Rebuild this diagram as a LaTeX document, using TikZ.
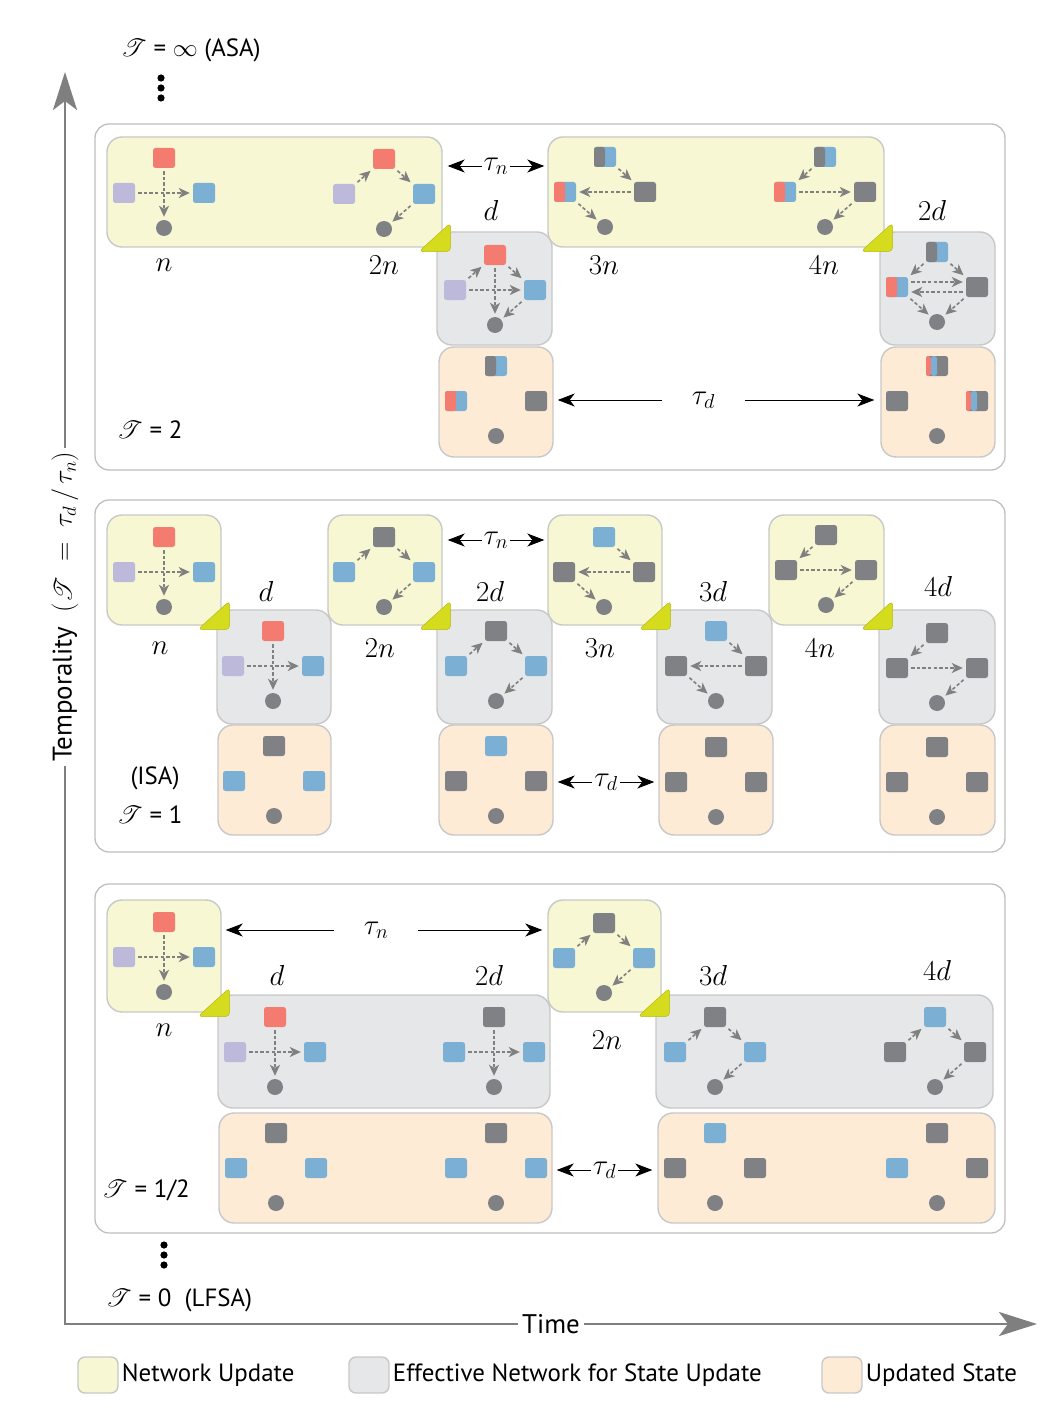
\RequirePackage{fix-cm}
\documentclass[tikz,border=0pt]{standalone}
\usepackage[no-math]{fontspec}
\setmainfont{PT Sans}
\usepackage{mathrsfs}
\usetikzlibrary{arrows.meta, positioning, fit}

\definecolor{cred}{HTML}{F47B6F}
\definecolor{cblue}{HTML}{7BAFD4}
\definecolor{clil}{HTML}{BDB9DA}
\definecolor{cgrey}{HTML}{808184}
\definecolor{clink}{HTML}{808080}
\definecolor{nfill}{HTML}{F7F7D3}
\definecolor{efill}{HTML}{E6E7E8}
\definecolor{sfill}{HTML}{FDEBD6}
\definecolor{tileline}{HTML}{C8C8C8}
\definecolor{panelline}{HTML}{BFBFBF}
\definecolor{flagc}{HTML}{D5DC1E}
\definecolor{caxis}{HTML}{7F7F7F}

\tikzset{
    panel/.style={draw=panelline, line width=1.3bp, rounded corners=14bp, fill=white, inner sep=0pt},
    tile/.style={draw=tileline, line width=1.4bp, rounded corners=15bp, inner sep=0pt},
    nbox/.style={tile, fill=nfill},
    ebox/.style={tile, fill=efill},
    sbox/.style={tile, fill=sfill},
    sq/.style={rectangle, rounded corners=2.5bp, minimum width=22bp, minimum height=20bp, inner sep=0pt, fill=#1},
    sq/.default=cgrey,
    redsq/.style={sq=cred},
    bluesq/.style={sq=cblue},
    lilsq/.style={sq=clil},
    greysq/.style={sq=cgrey},
    gbsq/.style={sq=cblue, path picture={\fill[cgrey] (path picture bounding box.south west) rectangle (path picture bounding box.north);}},
    rbsq/.style={sq=cblue, path picture={\fill[cred] (path picture bounding box.south west) rectangle (path picture bounding box.north);}},
    rbgsq/.style={sq=cgrey, path picture={
        \fill[cred] (path picture bounding box.south west) rectangle ([xshift=-6bp]path picture bounding box.north);
        \fill[cblue] ([xshift=-6bp]path picture bounding box.south) rectangle (path picture bounding box.north);}},
    sink/.style={circle, fill=cgrey, minimum size=16bp, inner sep=0pt},
    link/.style={draw=clink, dash pattern=on 3.4bp off 2.2bp, line width=1.6bp, -{Stealth[length=11bp, width=10bp, inset=3bp]}, shorten <=3bp, shorten >=3bp},
    span/.style={<->, >={Stealth[length=17bp, width=13bp, inset=5bp]}, line width=0.9bp},
    tau/.style={fill=white, font=\fontsize{29}{32}\selectfont, inner xsep=2bp, inner ysep=0pt},
    tick/.style={font=\fontsize{29}{32}\selectfont, inner sep=0pt},
    txt/.style={font=\fontsize{25}{29}\selectfont, inner sep=1bp},
    axis/.style={draw=caxis, line width=2.6bp, {Stealth[length=38bp, width=24bp, inset=9bp]}-{Stealth[length=38bp, width=24bp, inset=9bp]}},
    axlabel/.style={fill=white, text=black, font=\fontsize{27}{30}\selectfont, inner xsep=4bp, inner ysep=1bp},
    key/.style={minimum width=40bp, minimum height=36bp, rounded corners=7bp},
}

% script T, a little larger than the text round it
\newcommand{\tempo}{{\fontsize{29}{30}\selectfont$\mathscr{T}$}}

% nodes of one small network: top, left, right squares and the sink
\newcommand{\netnodes}[6]{%
    \node[#4] (#1t) at (#2,#3-35) {};
    \node[#5] (#1l) at (#2-40,#3) {};
    \node[#6] (#1r) at (#2+40,#3) {};
    \node[sink] (#1b) at (#2,#3+35) {};
}
% same, with its dashed links
\newcommand{\network}[7]{%
    \netnodes{#1}{#2}{#3}{#4}{#5}{#6}
    \foreach \a/\b in {#7} {\draw[link] (#1\a) -- (#1\b);}
}
% corner mark of a network update
\newcommand{\flag}[1]{%
    \filldraw[fill=flagc, draw=flagc!85!black, line width=0.5bp, rounded corners=4.5bp]
        ([shift={(-24,4)}]#1.south east) -- ([shift={(8,-25)}]#1.south east) -- ([shift={(8,4)}]#1.south east) -- cycle;
}

\begin{document}
\begin{tikzpicture}[x=1bp, y=-1bp]
\useasboundingbox (0,0) rectangle (1060,1410);

% Panels
\node[panel, fit={(95,124) (1005,470)}] (top) {};
\node[panel, fit={(95,500) (1005,852)}] (mid) {};
\node[panel, fit={(95,884) (1005,1233)}] (bot) {};

% T = 2
\node[ebox, fit={(437,232) (552,345)}] (ga) {};
\node[sbox, fit={(439,347) (553,457)}] (oa) {};
\node[ebox, fit={(880,232) (995,345)}] (gb) {};
\node[sbox, fit={(881,347) (995,457)}] (ob) {};
\node[nbox, fit={(107,137) (442,247)}] (ya) {};
\node[nbox, fit={(548,137) (884,247)}] (yb) {};
\flag{ya} \flag{yb}

% T = 1
\node[ebox, fit={(217,610) (331,724)}] (gc) {};
\node[sbox, fit={(218,725) (331,835)}] (oc) {};
\node[ebox, fit={(437,610) (552,724)}] (gd) {};
\node[sbox, fit={(439,725) (553,835)}] (od) {};
\node[ebox, fit={(657,610) (772,724)}] (ge) {};
\node[sbox, fit={(659,725) (773,835)}] (oe) {};
\node[ebox, fit={(879,610) (995,724)}] (gf) {};
\node[sbox, fit={(880,725) (995,835)}] (of) {};
\node[nbox, fit={(107,515) (221,625)}] (yc) {};
\node[nbox, fit={(328,515) (442,625)}] (yd) {};
\node[nbox, fit={(548,515) (662,625)}] (ye) {};
\node[nbox, fit={(769,515) (884,625)}] (yf) {};
\flag{yc} \flag{yd} \flag{ye} \flag{yf}

% T = 1/2
\node[ebox, fit={(218,995) (550,1108)}] (gg) {};
\node[sbox, fit={(219,1113) (552,1223)}] (og) {};
\node[ebox, fit={(656,995) (993,1108)}] (gh) {};
\node[sbox, fit={(658,1113) (995,1223)}] (oh) {};
\node[nbox, fit={(107,900) (221,1012)}] (yg) {};
\node[nbox, fit={(548,900) (661,1012)}] (yh) {};
\flag{yg} \flag{yh}

% Networks, T = 2
\network{pa}{164}{193}{redsq}{lilsq}{bluesq}{l/r, t/b}
\network{pb}{384}{194}{redsq}{lilsq}{bluesq}{l/t, t/r, r/b}
\network{pc}{495}{290}{redsq}{lilsq}{bluesq}{l/r, t/b, l/t, t/r, r/b}
\netnodes{pd}{496}{401}{gbsq}{rbsq}{greysq}
\network{pe}{605}{192}{gbsq}{rbsq}{greysq}{t/r, r/l, l/b}
\network{pf}{825}{192}{gbsq}{rbsq}{greysq}{t/l, l/r, r/b}
\network{pg}{937}{287}{gbsq}{rbsq}{greysq}{t/l, t/r, l/b, r/b}
\draw[link] ([yshift=5bp]pgl.east) -- ([yshift=5bp]pgr.west);
\draw[link] ([yshift=-5bp]pgr.west) -- ([yshift=-5bp]pgl.east);
\netnodes{ph}{937}{401}{rbgsq}{greysq}{rbgsq}

% Networks, T = 1
\network{qa}{164}{572}{redsq}{lilsq}{bluesq}{l/r, t/b}
\network{qb}{273}{666}{redsq}{lilsq}{bluesq}{l/r, t/b}
\netnodes{qc}{274}{781}{greysq}{bluesq}{bluesq}
\network{qd}{384}{572}{greysq}{bluesq}{bluesq}{l/t, t/r, r/b}
\network{qe}{496}{666}{greysq}{bluesq}{bluesq}{l/t, t/r, r/b}
\netnodes{qf}{496}{781}{bluesq}{greysq}{greysq}
\network{qg}{604}{572}{bluesq}{greysq}{greysq}{t/r, r/l, l/b}
\network{qh}{716}{666}{bluesq}{greysq}{greysq}{t/r, r/l, l/b}
\netnodes{qi}{716}{782}{greysq}{greysq}{greysq}
\network{qj}{826}{570}{greysq}{greysq}{greysq}{t/l, l/r, r/b}
\network{qk}{937}{668}{greysq}{greysq}{greysq}{t/l, l/r, r/b}
\netnodes{ql}{937}{782}{greysq}{greysq}{greysq}

% Networks, T = 1/2
\network{ra}{164}{957}{redsq}{lilsq}{bluesq}{l/r, t/b}
\network{rb}{275}{1052}{redsq}{lilsq}{bluesq}{l/r, t/b}
\network{rc}{494}{1052}{greysq}{bluesq}{bluesq}{l/r, t/b}
\netnodes{rd}{276}{1168}{greysq}{bluesq}{bluesq}
\netnodes{re}{496}{1168}{greysq}{bluesq}{bluesq}
\network{rf}{604}{958}{greysq}{bluesq}{bluesq}{l/t, t/r, r/b}
\network{rg}{715}{1052}{greysq}{bluesq}{bluesq}{l/t, t/r, r/b}
\network{rh}{935}{1052}{bluesq}{greysq}{greysq}{l/t, t/r, r/b}
\netnodes{ri}{715}{1168}{bluesq}{greysq}{greysq}
\netnodes{rj}{937}{1168}{greysq}{bluesq}{greysq}

% Time marks
\foreach \x/\y/\t [count=\i] in {164/265/n, 384/265/2n, 491/210/d, 604/265/3n, 824/265/4n, 932/210/2d,
    160/648/n, 266/591/d, 380/648/2n, 490/591/2d, 600/648/3n, 713/591/3d, 820/648/4n, 938/586/4d,
    164/1030/n, 277/975/d, 489/975/2d, 607/1040/2n, 713/975/3d, 937/970/4d}
    \node[tick] (tick\i) at (\x,\y) {$\t$};

% Delays
\draw[span] ([shift={(5,-26)}]ya.east) -- node[tau] (tna) {$\tau_n$} ([shift={(-3,-26)}]yb.west);
\draw[span] ([shift={(4,-2)}]oa.east) -- node[tau, pos=0.46, inner xsep=30bp] (tda) {$\tau_d$} ([shift={(-6,-2)}]ob.west);
\draw[span] ([shift={(5,-30)}]yd.east) -- node[tau] (tnb) {$\tau_n$} ([shift={(-3,-30)}]ye.west);
\draw[span] ([shift={(4,2)}]od.east) -- node[tau] (tdb) {$\tau_d$} ([shift={(-4,2)}]oe.west);
\draw[span] ([shift={(4,-26)}]yg.east) -- node[tau, pos=0.475, inner xsep=30bp] (tnc) {$\tau_n$} ([shift={(-5,-26)}]yh.west);
\draw[span] ([shift={(4,2)}]og.east) -- node[tau] (tdc) {$\tau_d$} ([shift={(-5,2)}]oh.west);

% Temporality values
\node[txt, anchor=west] (tinf) at (120,50) {\tempo\ = $\infty$ (ASA)};
\node[txt, anchor=west] (ttwo) at (116,430) {\tempo\ = 2};
\node[txt] (isa) at (155,778) {(ISA)};
\node[txt, anchor=west] (tone) at (116,815) {\tempo\ = 1};
\node[txt, anchor=west] (thalf) at (101,1190) {\tempo\ = 1/2};
\node[txt, anchor=west] (tzero) at (105,1300) {\tempo\ = 0\ \ (LFSA)};
\foreach \k in {0,1,2} {
    \fill (161,78+10*\k) circle (3.6bp);
    \fill (164,1245+10*\k) circle (3.6bp);
}

% Axes
\coordinate (ytop) at (65,72);
\coordinate (origin) at (65,1324);
\coordinate (xend) at (1037,1324);
\draw[axis] (ytop) -- node[axlabel, pos=0.427, rotate=90] (ylab) {Temporality\ \ $\bigl(\mathscr{T} \;=\; \tau_d\,/\,\tau_n\bigr)$}
    (origin) -- node[axlabel] (xlab) {Time} (xend);

% Legend
\node[nbox, key] (keyn) at (98,1375) {};
\node[txt, right=2bp of keyn] (keyntxt) {Network Update};
\node[ebox, key] (keye) at (369,1375) {};
\node[txt, right=2bp of keye] (keyetxt) {Effective Network for State Update};
\node[sbox, key] (keys) at (842,1375) {};
\node[txt, right=2bp of keys] (keystxt) {Updated State};

\end{tikzpicture}
\end{document}
